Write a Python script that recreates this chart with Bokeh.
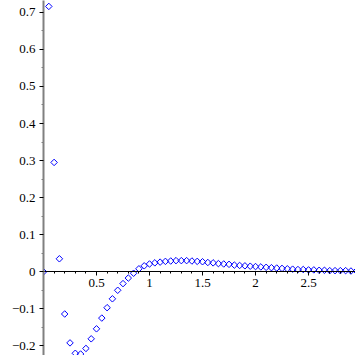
from bokeh.plotting import figure
from bokeh.models import FixedTicker, Range1d, ColumnDataSource
from bokeh.embed import file_html
from bokeh.resources import INLINE
import math

xs = [0.00, 0.05, 0.10, 0.15, 0.20, 0.25, 0.30, 0.35, 0.40, 0.45,
      0.50, 0.55, 0.60, 0.65, 0.70, 0.75, 0.80, 0.85, 0.90, 0.95,
      1.00, 1.05, 1.10, 1.15, 1.20, 1.25, 1.30, 1.35, 1.40, 1.45,
      1.50, 1.55, 1.60, 1.65, 1.70, 1.75, 1.80, 1.85, 1.90, 1.95,
      2.00, 2.05, 2.10, 2.15, 2.20, 2.25, 2.30, 2.35, 2.40, 2.45,
      2.50, 2.55, 2.60, 2.65, 2.70, 2.75, 2.80, 2.85, 2.90, 2.95]
ys = [0.000, 0.716, 0.295, 0.035, -0.114, -0.192, -0.220, -0.222, -0.207, -0.181,
      -0.154, -0.125, -0.097, -0.073, -0.050, -0.032, -0.017, -0.004, 0.008, 0.016,
      0.021, 0.024, 0.026, 0.028, 0.029, 0.030, 0.030, 0.030, 0.029, 0.028,
      0.027, 0.025, 0.024, 0.022, 0.021, 0.020, 0.018, 0.017, 0.016, 0.015,
      0.014, 0.013, 0.012, 0.011, 0.010, 0.009, 0.008, 0.007, 0.006, 0.006,
      0.005, 0.005, 0.004, 0.004, 0.003, 0.003, 0.003, 0.003, 0.002, 0.002]

x_ticks = [0.5, 1.0, 1.5, 2.0, 2.5]
x_labels = ["0.5", "1", "1.5", "2", "2.5"]
x_minor = [0.1, 0.2, 0.3, 0.4, 0.6, 0.7, 0.8, 0.9, 1.1, 1.2, 1.3, 1.4,
           1.6, 1.7, 1.8, 1.9, 2.1, 2.2, 2.3, 2.4, 2.6, 2.7, 2.8, 2.9]
y_ticks = [-0.2, -0.1, 0.0, 0.1, 0.2, 0.3, 0.4, 0.5, 0.6, 0.7]
y_labels = ["\u22120.2", "\u22120.1", "0", "0.1", "0.2", "0.3", "0.4", "0.5", "0.6", "0.7"]
y_minor = [-0.15, -0.05, 0.05, 0.15, 0.25, 0.35, 0.45, 0.55, 0.65]

p = figure(width=355, height=355, output_backend="svg", toolbar_location=None,
           x_range=Range1d(0, 2.943), y_range=Range1d(-0.226, 0.732),
           min_border_left=43, min_border_right=0, min_border_top=0, min_border_bottom=0)
p.outline_line_color = None
p.grid.visible = False
p.background_fill_color = "white"
p.border_fill_color = "white"

src = ColumnDataSource(dict(x=xs, y=ys))
p.scatter("x", "y", source=src, marker="square", size=4.6, angle=math.pi / 4,
          fill_color=None, line_color="#0000ff", line_width=1)

font = "Liberation Serif"

xa = p.xaxis[0]
xa.fixed_location = 0
xa.ticker = FixedTicker(ticks=x_ticks, minor_ticks=x_minor)
xa.major_label_overrides = {t: l for t, l in zip(x_ticks, x_labels)}
xa.axis_line_color = "#000000"
xa.axis_line_width = 1
xa.major_tick_line_color = "#000000"
xa.minor_tick_line_color = "#000000"
xa.major_tick_out = 4
xa.major_tick_in = 0
xa.minor_tick_out = 2
xa.minor_tick_in = 0
xa.major_label_text_font = font
xa.major_label_text_font_size = "13px"
xa.major_label_text_color = "#000000"
xa.major_label_standoff = 3

ya = p.yaxis[0]
ya.ticker = FixedTicker(ticks=y_ticks, minor_ticks=y_minor)
ya.major_label_overrides = {t: l for t, l in zip(y_ticks, y_labels)}
ya.axis_line_color = "#808080"
ya.axis_line_width = 2
ya.major_tick_line_color = "#000000"
ya.minor_tick_line_color = "#808080"
ya.major_tick_out = 4
ya.major_tick_in = 0
ya.minor_tick_out = 2
ya.minor_tick_in = 0
ya.major_label_text_font = font
ya.major_label_text_font_size = "13px"
ya.major_label_text_color = "#000000"
ya.major_label_standoff = 4

open("out.html", "w").write(file_html(p, INLINE))
